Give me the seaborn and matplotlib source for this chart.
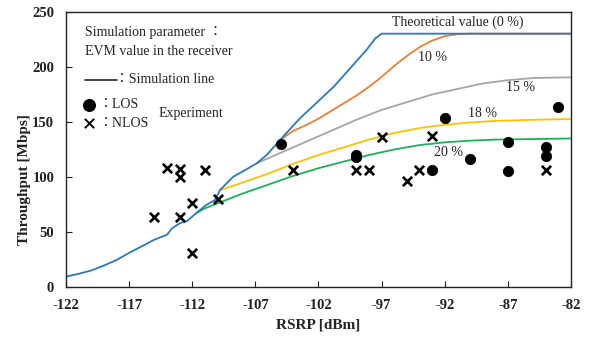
import matplotlib
matplotlib.use("Agg")
import matplotlib.pyplot as plt
import seaborn as sns
import pandas as pd

# shared low-RSRP part of every simulation curve
base_x = [-122, -122, -121, -120, -119, -118, -117, -116, -115, -114, -113.6, -113.0, -112.4, -111.7]
base_y = [0, 9.4, 12, 15, 19.5, 24.5, 31, 37, 43, 47.5, 53.4, 57.9, 60, 67]

# theoretical (0 %)
blue_x = [-111.7, -110.9, -110.2, -109.8, -108.75, -107.7, -106.9, -106.1, -105.05, -103.5, -100.8, -98.2,
          -97.5, -97.0, -82]
blue_y = [67, 74.5, 79.1, 88.2, 100.3, 107, 112.4, 120, 133.6, 153, 182, 215.5, 226, 230.3, 230.3]

# 10 %
orange_x = [-105.05, -104, -103, -102, -101, -100, -99, -98, -97, -96, -95, -94, -93, -92, -91, -90, -82]
orange_y = [133.6, 142, 147, 153, 160, 167, 174, 182, 191, 201, 210, 218, 224, 228, 229.8, 230.3, 230.3]

# 15 %
gray_x = [-106.9, -105, -103, -101, -99, -97, -95, -93, -91, -89, -87, -85, -82]
gray_y = [112.4, 122, 132, 142, 152, 161, 168, 175, 180, 185, 188, 190, 190.6]

# 18 %
yellow_x = [-109.8, -108, -106, -104, -102, -100, -98, -96, -94, -92, -90, -88, -85, -82]
yellow_y = [88, 95, 103, 112, 120, 127, 134, 140, 144.5, 147.5, 149.5, 151, 152, 152.7]

# 20 %
green_x = [-111.7, -111, -110, -108, -106, -104, -102, -100, -98, -96, -94, -92, -90, -88, -85, -82]
green_y = [67, 71.5, 76, 85, 93, 101, 108, 114, 120, 125, 129, 131.5, 133, 134, 134.5, 135]

# measurements
los_x = [-105, -99, -99, -93, -92, -90, -87, -87, -84, -84, -83]
los_y = [130, 120, 118, 106.5, 153.5, 116.5, 131.5, 105, 127, 119.5, 163.5]
nlos_x = [-115, -114, -113, -113, -113, -112, -112, -111, -110, -104, -99, -98, -97, -95, -94, -93, -84]
nlos_y = [63.5, 108, 107, 100, 63.5, 76, 31, 106, 80, 106, 106, 106.5, 136, 96, 106, 137, 106]

curve_labels = ["Theoretical value (0 %)", "10 %", "15 %", "18 %", "20 %"]
label_x = [-96.2, -93.0, -86.0, -89.0, -91.7]
label_y = [241, 209, 181, 158, 122.7]

colors = {"blue": "#2A78BF", "orange": "#ED7D31", "gray": "#A5A5A5", "yellow": "#FFC000", "green": "#1DB054"}

sns.set_style("ticks")
plt.rcParams['font.family'] = ['Liberation Serif', 'Noto Sans CJK JP']
plt.rcParams['axes.edgecolor'] = '#222222'
plt.rcParams['axes.unicode_minus'] = False

fig, ax = plt.subplots(figsize=(5.97, 3.37), dpi=100)
fig.subplots_adjust(left=0.1106, right=0.9564, top=0.9644, bottom=0.1484)

curves = [
    (green_x, green_y, colors["green"]),
    (yellow_x, yellow_y, colors["yellow"]),
    (gray_x, gray_y, colors["gray"]),
    (orange_x, orange_y, colors["orange"]),
    (base_x + blue_x, base_y + blue_y, colors["blue"]),
]
for xs, ys, c in curves:
    df = pd.DataFrame({"x": xs, "y": ys})
    sns.lineplot(data=df, x="x", y="y", sort=False, color=c, lw=1.3, ax=ax, estimator=None)

sns.scatterplot(x=los_x, y=los_y, marker="o", s=55, color="black", edgecolor="black", ax=ax, zorder=5)
sns.scatterplot(x=nlos_x, y=nlos_y, marker="x", s=45, color="black", linewidth=1.9, ax=ax, zorder=5)

txt = "#222222"
for lab, lx, ly in zip(curve_labels, label_x, label_y):
    ha = "left" if lab.startswith("Theo") else "center"
    ax.text(lx, ly, lab, ha=ha, va="center", fontsize=10, color=txt)

# legend block
ax.text(0.0376, 0.927, "Simulation parameter ：", transform=ax.transAxes, va="center", fontsize=10, color=txt)
ax.text(0.0376, 0.856, "EVM value in the receiver", transform=ax.transAxes, va="center", fontsize=10, color=txt)
ax.plot([0.0376, 0.1004], [0.753, 0.753], transform=ax.transAxes, color="#222222", lw=1.2)
ax.text(0.097, 0.753, "：Simulation line", transform=ax.transAxes, va="center", fontsize=10, color=txt)
ax.scatter([0.046], [0.662], transform=ax.transAxes, marker="o", s=70, color="black")
ax.text(0.0634, 0.662, "：LOS", transform=ax.transAxes, va="center", fontsize=10, color=txt)
ax.scatter([0.046], [0.595], transform=ax.transAxes, marker="x", s=45, color="black", linewidth=1.4)
ax.text(0.0634, 0.595, "：NLOS", transform=ax.transAxes, va="center", fontsize=10, color=txt)
ax.text(0.184, 0.632, "Experiment", transform=ax.transAxes, va="center", fontsize=10, color=txt)

ax.set_xlim(-122, -82)
ax.set_ylim(0, 250)
ax.set_xticks(range(-122, -81, 5))
ax.set_yticks(range(0, 251, 50))
ax.tick_params(direction="in", length=4, width=0.8, labelsize=10.5, colors="#222222")
ax.tick_params(axis="y", pad=8.5)
ax.tick_params(axis="x", pad=8.5)
for t in ax.get_xticklabels() + ax.get_yticklabels():
    t.set_fontweight("bold")
ax.set_xlabel("RSRP [dBm]", fontsize=11, fontweight="bold", color=txt, labelpad=4.5)
ax.set_ylabel("Throughput [Mbps]", fontsize=11, fontweight="bold", color=txt)
ax.yaxis.set_label_coords(-0.07, 0.389)
for s in ax.spines.values():
    s.set_linewidth(1.0)

fig.savefig("out.png", dpi=100)
